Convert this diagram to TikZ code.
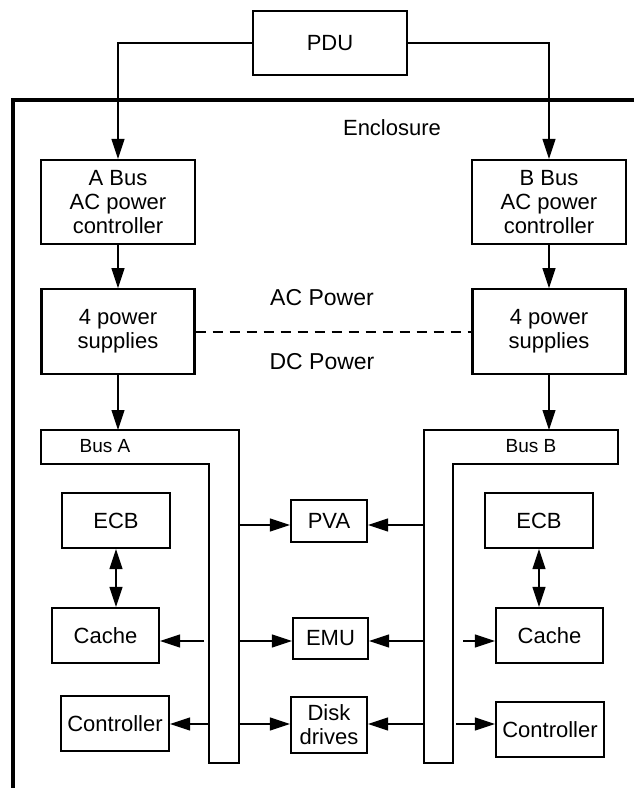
\documentclass[tikz,border=0pt]{standalone}
\usepackage{fontspec}
\setmainfont{Liberation Sans}
\usetikzlibrary{arrows.meta, positioning}

\begin{document}
\begin{tikzpicture}[
    x=0.5pt, y=-0.5pt,
    font=\fontsize{11}{12}\selectfont,
    mybox/.style={rectangle, draw, line width=1.1pt, align=center, inner sep=0pt},
    mybus/.style={draw, line width=0.6pt},
    buslabel/.style={font=\fontsize{9.5}{11}\selectfont},
    powerlabel/.style={font=\fontsize{11.5}{13}\selectfont},
    myarrow/.style={-{Triangle[length=10pt,width=6.5pt]}, line width=0.55pt},
    mydouble/.style={{Triangle[length=10pt,width=6.5pt]}-{Triangle[length=10pt,width=6.5pt]}, line width=0.55pt}
]
\useasboundingbox (0,0) rectangle (634,788);

% Enclosure
\draw[line width=1.7pt] (634,100) -- (13,100) -- (13,788);
\node (EncLabel) at (392,128) {Enclosure};

% Nodes
\node[mybox, minimum width=77pt, minimum height=32pt] (PDU) at (330,43) {PDU};
\node[mybox, minimum width=77pt, minimum height=42pt] (ACCtrlA) at (118,202) {A Bus\\AC power\\controller};
\node[mybox, minimum width=77pt, minimum height=42pt] (ACCtrlB) at (549,202) {B Bus\\AC power\\controller};
\node[mybox, minimum width=76.5pt, minimum height=42.5pt, below=21.5pt of ACCtrlA] (PowerA) {4 power\\supplies};
\node[mybox, minimum width=76.5pt, minimum height=42.5pt, below=21.5pt of ACCtrlB] (PowerB) {4 power\\supplies};
\node[powerlabel] (ACLabel) at (322,298) {AC Power};
\node[powerlabel] (DCLabel) at (322,362) {DC Power};

% Buses
\draw[mybus] (41,430) -- (239,430) -- (239,763) -- (209,763) -- (209,464) -- (41,464) -- cycle;
\draw[mybus] (424,430) -- (618,430) -- (618,464) -- (453,464) -- (453,763) -- (424,763) -- cycle;
\node[buslabel] (BusALabel) at (105,446) {Bus A};
\node[buslabel] (BusBLabel) at (531,446) {Bus B};
\coordinate (BusA) at (118,430);
\coordinate (BusB) at (549,430);
\coordinate (BusAIn) at (209,0);
\coordinate (BusAOut) at (239,0);
\coordinate (BusBIn) at (424,0);
\coordinate (BusBOut) at (453,0);
\coordinate (RowPVA) at (0,525);
\coordinate (RowEMU) at (0,641);
\coordinate (RowDisk) at (0,724);

\node[mybox, minimum width=54pt, minimum height=27.5pt] (ECBA) at (116,520.5) {ECB};
\node[mybox, minimum width=54pt, minimum height=27.5pt] (ECBB) at (539,520.5) {ECB};
\node[mybox, minimum width=53.5pt, minimum height=27.5pt] (CacheA) at (105.5,635.5) {Cache};
\node[mybox, minimum width=53.5pt, minimum height=27.5pt] (CacheB) at (549.5,635.5) {Cache};
\node[mybox, minimum width=54pt, minimum height=27.5pt] (CtrlA) at (115,723.5) {Controller};
\node[mybox, minimum width=54pt, minimum height=27.5pt] (CtrlB) at (550,729.5) {Controller};
\node[mybox, minimum width=38pt, minimum height=21pt] (PVA) at (329,521) {PVA};
\node[mybox, minimum width=37.5pt, minimum height=20.5pt] (EMU) at (330.5,638.5) {EMU};
\node[mybox, minimum width=38pt, minimum height=28pt] (Disks) at (329,725) {Disk\\drives};

% Paths
\draw[myarrow] (PDU.west) -| (ACCtrlA.north);
\draw[myarrow] (PDU.east) -| (ACCtrlB.north);
\draw[myarrow] (ACCtrlA) -- (PowerA);
\draw[myarrow] (ACCtrlB) -- (PowerB);
\draw[dash pattern=on 5pt off 3.5pt, line width=1pt] (PowerA) -- (PowerB);
\draw[myarrow] (PowerA) -- (BusA);
\draw[myarrow] (PowerB) -- (BusB);

\draw[myarrow] (BusAOut |- RowPVA) -- (PVA.west |- RowPVA);
\draw[myarrow] (BusBIn |- RowPVA) -- (PVA.east |- RowPVA);
\draw[mydouble] (ECBA.south) -- (ECBA.south |- CacheA.north);
\draw[mydouble] (ECBB.south) -- (ECBB.south |- CacheB.north);

\draw[myarrow] ([xshift=-2.5pt]BusAIn |- RowEMU) -- (CacheA.east |- RowEMU);
\draw[myarrow] (BusAOut |- RowEMU) -- (EMU.west |- RowEMU);
\draw[myarrow] (BusBIn |- RowEMU) -- (EMU.east |- RowEMU);
\draw[myarrow] ([xshift=5pt]BusBOut |- RowEMU) -- (CacheB.west |- RowEMU);

\draw[myarrow] (BusAIn |- RowDisk) -- (CtrlA.east |- RowDisk);
\draw[myarrow] (BusAOut |- RowDisk) -- (Disks.west |- RowDisk);
\draw[myarrow] (BusBIn |- RowDisk) -- (Disks.east |- RowDisk);
\draw[myarrow] ([xshift=1.5pt]BusBOut |- RowDisk) -- (CtrlB.west |- RowDisk);

\end{tikzpicture}
\end{document}
